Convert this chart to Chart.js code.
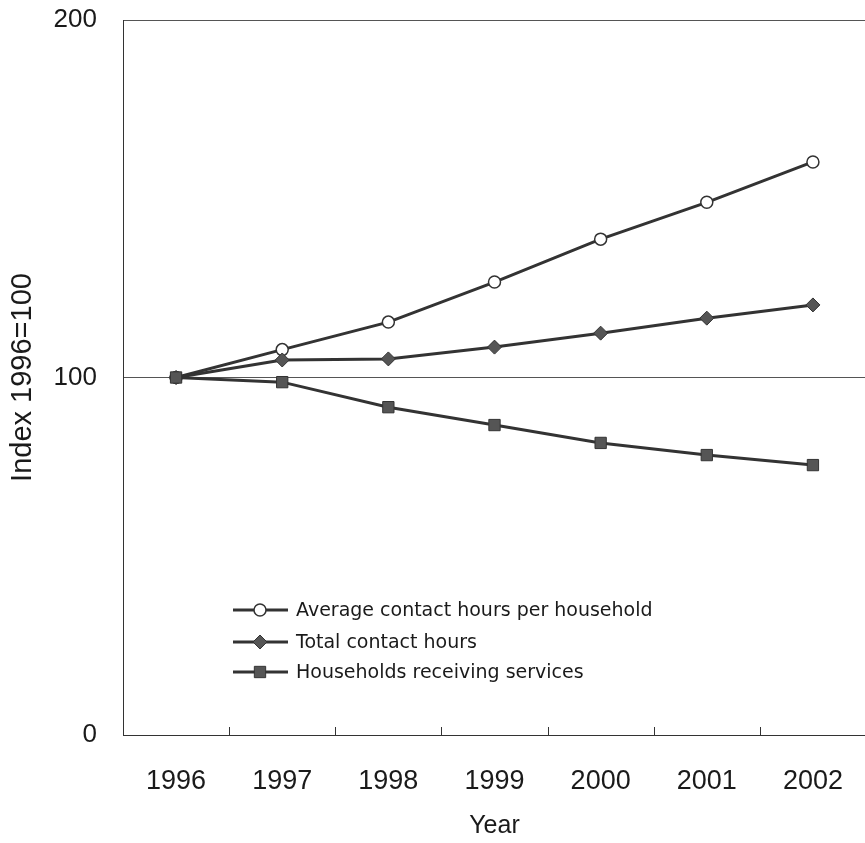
<!DOCTYPE html>
<html>
<head>
<meta charset="utf-8">
<script src="https://cdn.jsdelivr.net/npm/chart.js@4/dist/chart.umd.min.js"></script>
<style>
  html, body { margin: 0; padding: 0; background: #fff; overflow: hidden; }
  #wrap { width: 875px; height: 843px; position: relative; }
</style>
</head>
<body>
<div id="wrap"><canvas id="c"></canvas></div>
<script>
const years = ["1996", "1997", "1998", "1999", "2000", "2001", "2002"];
const avgContactHours = [100, 107.8, 115.5, 126.7, 138.7, 149.0, 160.3];
const totalContactHours = [100, 104.9, 105.2, 108.5, 112.4, 116.6, 120.3];
const householdsReceiving = [100, 98.7, 91.7, 86.7, 81.7, 78.3, 75.5];
const seriesNames = ["Average contact hours per household", "Total contact hours", "Households receiving services"];
const yTicks = [0, 100, 200];

const lineColor = '#333333';

const innerTicks = {
  id: 'innerTicks',
  afterDraw(chart) {
    const x = chart.scales.x, area = chart.chartArea, ctx = chart.ctx;
    ctx.save();
    ctx.strokeStyle = '#333';
    ctx.lineWidth = 1;
    for (let i = 0; i < years.length - 1; i++) {
      const px = Math.round((x.getPixelForValue(i) + x.getPixelForValue(i + 1)) / 2) + 0.5;
      ctx.beginPath();
      ctx.moveTo(px, area.bottom);
      ctx.lineTo(px, area.bottom - 8);
      ctx.stroke();
    }
    ctx.restore();
  }
};

const innerLegend = {
  id: 'innerLegend',
  afterDraw(chart) {
    const ctx = chart.ctx, area = chart.chartArea;
    const rows = [125, 93, 63];
    ctx.save();
    chart.data.datasets.forEach((ds, i) => {
      const y = area.bottom - rows[i];
      const x0 = area.left + 110, x1 = area.left + 165, xm = area.left + 137;
      ctx.strokeStyle = lineColor;
      ctx.lineWidth = 3;
      ctx.beginPath();
      ctx.moveTo(x0, y);
      ctx.lineTo(x1, y);
      ctx.stroke();
      ctx.fillStyle = ds.pointBackgroundColor;
      ctx.strokeStyle = ds.pointBorderColor;
      ctx.lineWidth = ds.pointBorderWidth;
      Chart.helpers.drawPoint(ctx, { pointStyle: ds.pointStyle, radius: ds.pointRadius, borderWidth: ds.pointBorderWidth }, xm, y);
      ctx.fillStyle = '#1a1a1a';
      ctx.font = '19px "DejaVu Sans"';
      ctx.textBaseline = 'middle';
      ctx.textAlign = 'left';
      ctx.fillText(ds.label, area.left + 173, y + 1);
    });
    ctx.restore();
  }
};

new Chart(document.getElementById('c'), {
  type: 'line',
  data: {
    labels: years,
    datasets: [
      { label: seriesNames[0], data: avgContactHours, order: 2, borderColor: lineColor, borderWidth: 3,
        pointStyle: 'circle', pointRadius: 6, pointBackgroundColor: '#ffffff', pointBorderColor: lineColor, pointBorderWidth: 1.5, tension: 0 },
      { label: seriesNames[1], data: totalContactHours, order: 1, borderColor: lineColor, borderWidth: 3,
        pointStyle: 'rectRot', pointRadius: 7, pointBackgroundColor: '#555555', pointBorderColor: lineColor, pointBorderWidth: 1, tension: 0 },
      { label: seriesNames[2], data: householdsReceiving, order: 0, borderColor: lineColor, borderWidth: 3,
        pointStyle: 'rect', pointRadius: 8, pointBackgroundColor: '#555555', pointBorderColor: lineColor, pointBorderWidth: 1, tension: 0 }
    ]
  },
  options: {
    responsive: true,
    maintainAspectRatio: false,
    animation: false,
    events: [],
    layout: { padding: { left: 0, right: 3, top: 20, bottom: 0 } },
    plugins: { legend: { display: false }, tooltip: { enabled: false } },
    scales: {
      x: {
        offset: true,
        afterFit(scale) { scale.height = 108; },
        grid: { display: false },
        border: { display: true, color: '#333', width: 1 },
        ticks: { color: '#1a1a1a', font: { family: '"Liberation Sans"', size: 27 }, padding: 22, maxRotation: 0, autoSkip: false },
        title: { display: true, text: 'Year', color: '#1a1a1a', font: { family: '"Liberation Sans"', size: 25 }, padding: { top: 4, bottom: 2 } }
      },
      y: {
        min: 0, max: 200,
        afterBuildTicks(scale) { scale.ticks = yTicks.map(v => ({ value: v })); },
        afterFit(scale) { scale.width = 123; scale.paddingTop = 0; scale.paddingBottom = 0; },
        grid: { color: '#555', lineWidth: 1, drawTicks: false },
        border: { display: true, color: '#333', width: 1 },
        ticks: { color: '#1a1a1a', font: { family: '"Liberation Sans"', size: 26 }, padding: 26 },
        title: { display: true, text: 'Index 1996=100', color: '#1a1a1a', font: { family: '"Liberation Sans"', size: 29 }, padding: { top: 6, bottom: 4 } }
      }
    }
  },
  plugins: [innerTicks, innerLegend]
});
</script>
</body>
</html>
